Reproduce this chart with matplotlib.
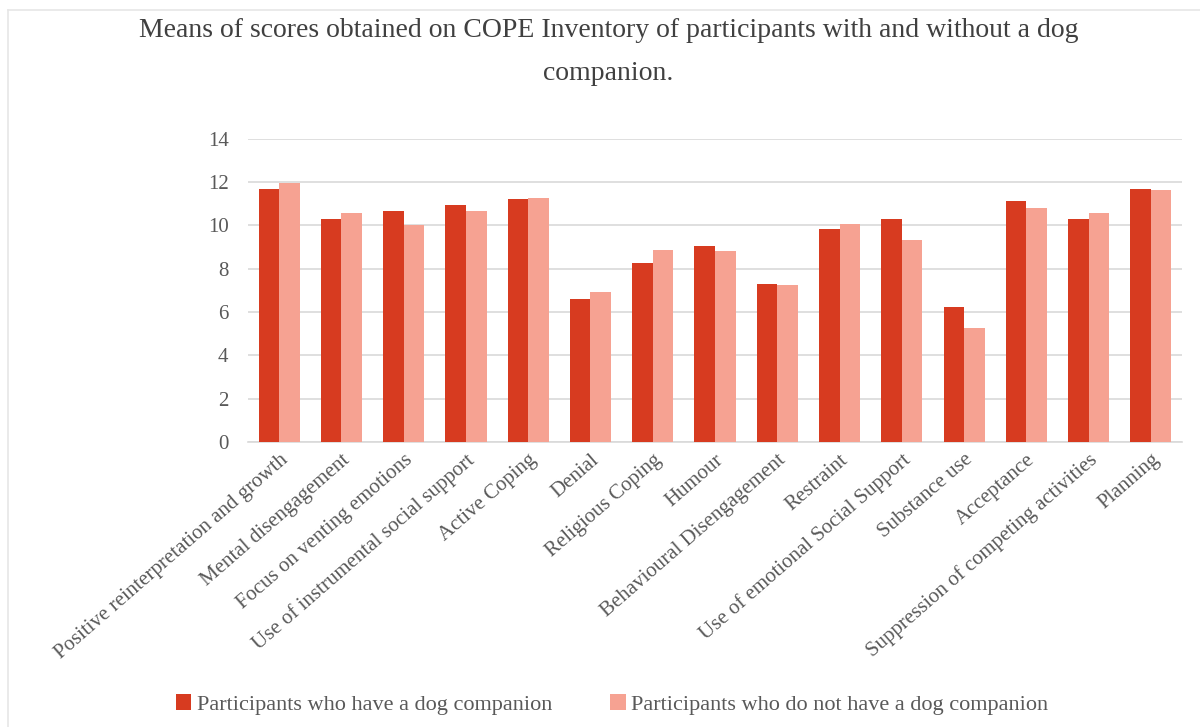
import matplotlib.pyplot as plt
import numpy as np
from matplotlib.lines import Line2D

categories = [
    "Positive reinterpretation and growth",
    "Mental disengagement",
    "Focus on venting emotions",
    "Use of instrumental social support",
    "Active Coping",
    "Denial",
    "Religious Coping",
    "Humour",
    "Behavioural Disengagement",
    "Restraint",
    "Use of emotional Social Support",
    "Substance use",
    "Acceptance",
    "Suppression of competing activities",
    "Planning",
]
with_dog = [11.68, 10.31, 10.69, 10.94, 11.22, 6.60, 8.26, 9.06, 7.29, 9.85, 10.29, 6.25, 11.15, 10.31, 11.68]
without_dog = [11.98, 10.58, 10.03, 10.68, 11.26, 6.92, 8.89, 8.80, 7.26, 10.09, 9.35, 5.25, 10.82, 10.57, 11.62]
series_names = ["Participants who have a dog companion", "Participants who do not have a dog companion"]

dark = "#D73B20"
light = "#F6A292"
text_col = "#595959"

plt.rcParams["font.family"] = ["Liberation Serif", "DejaVu Serif"]

fig = plt.figure(figsize=(12, 7.27), dpi=100)
ax = fig.add_axes([0.2067, 0.392, 0.7783, 0.417])

x = np.arange(len(categories))
w = 0.33
ax.bar(x - w / 2, with_dog, w, color=dark, label=series_names[0], zorder=3)
ax.bar(x + w / 2, without_dog, w, color=light, label=series_names[1], zorder=3)

ax.set_xlim(-0.5, len(categories) - 0.5)
ax.set_ylim(0, 14)
ax.set_yticks(range(0, 15, 2))
ax.grid(axis="y", color="#D9D9D9", linewidth=1.2, zorder=0)
for s in ["top", "right", "left"]:
    ax.spines[s].set_visible(False)
ax.spines["bottom"].set_color("#D9D9D9")
ax.spines["bottom"].set_linewidth(1.2)
ax.tick_params(axis="both", length=0, colors=text_col)
ax.tick_params(axis="y", pad=14, labelsize=15)
ax.tick_params(axis="x", pad=6, labelsize=15)
ax.set_xticks(x)
ax.set_xticklabels(categories, rotation=41, ha="right", rotation_mode="anchor")

fig.text(0.507, 0.958, "Means of scores obtained on COPE Inventory of participants with and without a dog",
         ha="center", va="center", fontsize=20, color="#404040")
fig.text(0.507, 0.899, "companion.", ha="center", va="center", fontsize=20, color="#404040")

fig.legend(loc="center", bbox_to_anchor=(0.51, 0.031), ncol=2, frameon=False,
           fontsize=16, handlelength=0.7, handleheight=0.7, handletextpad=0.25,
           columnspacing=2.6, labelcolor=text_col)

fig.add_artist(Line2D([0.007, 1.0], [0.986, 0.986], color="#E6E6E6", linewidth=1.2))
fig.add_artist(Line2D([0.007, 0.007], [0.0, 0.986], color="#E6E6E6", linewidth=1.2))

fig.savefig("out.png", dpi=100, facecolor="white")
